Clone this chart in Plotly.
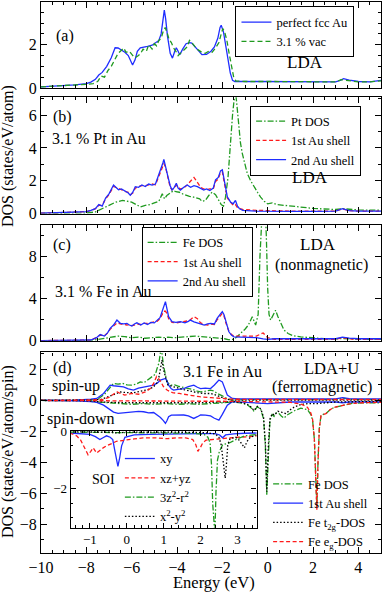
import plotly.graph_objs as go

FONT = 'Liberation Serif'
BLUE = '#1f2dff'
RED = '#ff1a1a'
GREEN = '#1f9a1f'

# ---- panel (a): perfect fcc Au vs 3.1 % vacancies
e_a_au = [-10, -9, -8.5, -8, -7.8, -7.6, -7.45, -7.3, -7.1, -6.9, -6.73, -6.6, -6.5, -6.3, -6.15, -6.05, -5.96,
          -5.85, -5.75, -5.62, -5.45, -5.3, -5.1, -4.95, -4.8, -4.7, -4.62, -4.56, -4.5, -4.42, -4.3, -4.2, -4.1,
          -4.03, -3.95, -3.88, -3.75, -3.6, -3.45, -3.35, -3.2, -3.05, -2.9, -2.7, -2.5, -2.35, -2.2, -2.1, -2.05,
          -1.95, -1.85, -1.75, -1.65, -1.55, -1.45, -1, 0, 1, 2, 3, 3.2, 3.35, 3.6, 4, 4.5, 5]
dos_a_au = [0.05, 0.1, 0.14, 0.2, 0.27, 0.4, 0.6, 0.72, 1.0, 1.4, 1.86, 1.85, 1.78, 1.65, 1.5, 1.3, 1.06,
            1.3, 1.7, 1.86, 1.88, 1.93, 1.98, 2.1, 2.2, 2.5, 3.1, 3.6, 3.2, 2.4, 1.6, 1.38, 1.7,
            1.86, 1.7, 1.54, 1.8, 2.05, 2.1, 2.08, 1.9, 1.7, 1.54, 1.55, 1.7, 1.9, 2.3, 2.8, 2.9,
            2.6, 2.0, 1.3, 0.7, 0.35, 0.3, 0.3, 0.3, 0.3, 0.28, 0.28, 0.35, 0.43, 0.36, 0.3, 0.28, 0.35]
e_a_vac = [-10, -9, -8, -7.7, -7.5, -7.35, -7.2, -7.05, -6.9, -6.75, -6.6, -6.45, -6.35, -6.25, -6.1, -5.95,
           -5.85, -5.7, -5.6, -5.5, -5.35, -5.25, -5.1, -5.0, -4.9, -4.8, -4.7, -4.6, -4.52, -4.45, -4.35, -4.25,
           -4.15, -4.05, -3.95, -3.85, -3.7, -3.55, -3.45, -3.35, -3.2, -3.05, -2.9, -2.75, -2.6, -2.45, -2.3,
           -2.15, -2.05, -1.98, -1.9, -1.8, -1.7, -1.6, -1.5, -1.4, -1, 0, 1, 2, 3, 3.25, 3.4, 3.7, 4, 4.5, 5]
dos_a_vac = [0.05, 0.1, 0.17, 0.2, 0.3, 0.55, 0.5, 0.8, 1.0, 1.3, 1.6, 1.75, 1.85, 1.65, 1.7, 1.5,
             1.4, 1.5, 1.6, 1.8, 1.7, 2.0, 1.8, 2.05, 1.95, 2.2, 2.3, 2.65, 2.8, 2.6, 2.25, 2.1,
             1.85, 1.7, 1.5, 1.6, 1.75, 1.9, 2.2, 2.1, 1.9, 1.75, 1.65, 1.6, 1.7, 1.65, 1.85,
             2.1, 2.5, 2.75, 2.6, 2.2, 1.6, 1.1, 0.5, 0.32, 0.3, 0.3, 0.3, 0.28, 0.28, 0.38, 0.36, 0.3, 0.28, 0.28, 0.33]

# ---- panel (b): 3.1 % Pt in Au
e_b_au = [-10, -9, -8, -7.8, -7.6, -7.45, -7.3, -7.15, -7.0, -6.8, -6.7, -6.58, -6.45, -6.3, -6.15, -6.06, -5.95,
          -5.84, -5.7, -5.55, -5.4, -5.25, -5.1, -4.95, -4.8, -4.7, -4.62, -4.58, -4.5, -4.4, -4.3, -4.22, -4.12,
          -4.03, -3.95, -3.85, -3.7, -3.55, -3.4, -3.25, -3.1, -2.95, -2.82, -2.7, -2.55, -2.4, -2.3, -2.18, -2.08,
          -2.0, -1.93, -1.85, -1.78, -1.64, -1.52, -1.42, -1.33, -1.25, -1.1, -0.5, 0, 1, 2, 3, 3.3, 3.6, 4, 5]
dos_b_shell2 = [0.02, 0.05, 0.12, 0.2, 0.3, 0.55, 0.45, 0.95, 1.2, 1.74, 1.6, 1.45, 1.5, 1.4, 1.25, 1.12, 1.3,
                1.64, 1.6, 1.74, 1.65, 1.8, 1.74, 1.8, 2.36, 2.7, 3.1, 3.3, 2.9, 2.25, 1.7, 1.43, 1.6,
                1.85, 1.55, 1.43, 1.6, 1.74, 1.6, 1.7, 1.64, 1.55, 1.43, 1.5, 1.4, 1.55, 2.05, 2.2, 2.6,
                2.67, 2.1, 1.6, 1.02, 0.71, 0.6, 0.8, 0.45, 0.31, 0.2, 0.15, 0.13, 0.13, 0.14, 0.15, 0.3, 0.18, 0.15, 0.15]
dos_b_shell1 = [0.02, 0.05, 0.12, 0.18, 0.3, 0.5, 0.5, 0.9, 1.15, 1.65, 1.6, 1.5, 1.45, 1.35, 1.3, 1.15, 1.25,
                1.55, 1.65, 1.7, 1.7, 1.75, 1.8, 1.75, 2.3, 2.6, 3.0, 3.05, 2.8, 2.2, 1.6, 1.45, 1.55,
                1.75, 1.6, 1.5, 1.55, 1.75, 2.0, 2.2, 1.9, 1.6, 1.5, 1.45, 1.5, 1.5, 1.95, 2.1, 2.5,
                2.55, 2.0, 1.5, 0.95, 0.7, 0.5, 0.55, 0.35, 0.3, 0.25, 0.2, 0.17, 0.15, 0.15, 0.15, 0.28, 0.18, 0.15, 0.15]
e_b_pt = [-10, -8, -7.6, -7.3, -7.0, -6.7, -6.4, -6.2, -6.0, -5.8, -5.62, -5.4, -5.2, -5.0, -4.8, -4.65, -4.55,
          -4.45, -4.3, -4.15, -4.05, -3.9, -3.75, -3.6, -3.45, -3.3, -3.15, -3.0, -2.9, -2.75, -2.6, -2.45, -2.3,
          -2.15, -2.05, -1.95, -1.86, -1.75, -1.64, -1.55, -1.49, -1.42, -1.35, -1.27, -1.2, -1.12, -1.0, -0.9,
          -0.75, -0.6, -0.45, -0.31, -0.15, 0, 0.2, 0.4, 0.7, 1.0, 1.5, 2, 2.5, 3, 3.3, 3.6, 4, 5]
dos_b_pt = [0.01, 0.03, 0.1, 0.3, 0.5, 0.7, 0.8, 0.75, 0.7, 0.55, 0.41, 0.5, 0.55, 0.65, 0.75, 1.2, 0.9,
            1.1, 1.25, 1.4, 1.33, 1.3, 1.2, 1.1, 1.05, 1.02, 0.95, 0.9, 0.75, 0.8, 1.1, 1.3, 1.15,
            0.8, 0.55, 0.45, 1.0, 2.2, 4.7, 6.0, 6.8, 7.5, 6.5, 5.1, 4.3, 3.67, 2.9, 2.44,
            2.0, 1.62, 1.3, 1.0, 0.75, 0.59, 0.65, 0.55, 0.5, 0.45, 0.38, 0.32, 0.28, 0.25, 0.3, 0.25, 0.22, 0.2]

# ---- panel (c): 3.1 % Fe in Au, nonmagnetic LDA
e_c_au = [-10, -9, -8, -7.8, -7.55, -7.39, -7.2, -7.05, -6.95, -6.8, -6.65, -6.5, -6.35, -6.21, -6.1, -5.99,
          -5.88, -5.77, -5.6, -5.45, -5.3, -5.15, -5.0, -4.88, -4.75, -4.66, -4.58, -4.51, -4.44, -4.37, -4.22,
          -4.05, -3.85, -3.65, -3.5, -3.41, -3.25, -3.1, -2.96, -2.8, -2.65, -2.52, -2.35, -2.23, -2.1, -2.0,
          -1.93, -1.86, -1.71, -1.6, -1.49, -1.2, -0.8, -0.5, -0.2, 0, 0.3, 1, 2, 3, 3.3, 3.6, 4, 5]
dos_c_shell2 = [0.02, 0.03, 0.05, 0.08, 0.3, 0.6, 0.45, 0.8, 1.18, 1.5, 1.97, 1.66, 1.6, 1.66, 1.5, 1.4,
                1.6, 1.71, 1.5, 1.7, 1.55, 1.75, 1.7, 1.97, 2.2, 2.76, 3.3, 3.71, 3.0, 2.29, 1.81,
                1.75, 1.81, 1.7, 1.85, 1.97, 1.8, 1.7, 1.66, 1.5, 1.6, 1.66, 1.6, 2.13, 2.5, 2.76,
                2.5, 1.97, 0.86, 0.55, 0.38, 0.35, 0.33, 0.3, 0.18, 0.15, 0.2, 0.2, 0.2, 0.2, 0.35, 0.25, 0.2, 0.2]
dos_c_shell1 = [0.02, 0.03, 0.05, 0.08, 0.3, 0.55, 0.5, 0.75, 1.1, 1.4, 1.7, 1.6, 1.55, 1.5, 1.55, 1.45,
                1.5, 1.6, 1.55, 1.65, 1.65, 1.7, 1.8, 1.85, 2.1, 2.5, 2.8, 2.8, 2.6, 2.1, 1.75,
                1.7, 1.75, 1.8, 1.9, 2.0, 2.29, 2.1, 1.7, 1.55, 1.5, 1.6, 1.55, 2.0, 2.4, 2.6,
                2.4, 1.8, 0.9, 0.6, 0.45, 0.45, 0.4, 0.45, 0.75, 0.3, 0.15, 0.15, 0.15, 0.15, 0.3, 0.2, 0.15, 0.15]
e_c_fe = [-10, -8, -7.6, -7.2, -6.9, -6.6, -6.3, -6.0, -5.7, -5.4, -5.1, -4.8, -4.6, -4.4, -4.1, -3.8, -3.5,
          -3.2, -2.95, -2.7, -2.4, -2.1, -1.9, -1.7, -1.5, -1.35, -1.19, -1.0, -0.85, -0.68, -0.53, -0.42,
          -0.34, -0.28, -0.2, -0.12, -0.06, 0.0, 0.06, 0.13, 0.22, 0.35, 0.45, 0.6, 0.72, 0.9, 1.1, 1.46,
          2.0, 2.5, 3, 3.3, 3.6, 4, 5]
dos_c_fe = [0.0, 0.02, 0.1, 0.25, 0.35, 0.45, 0.4, 0.3, 0.35, 0.25, 0.3, 0.35, 0.3, 0.35, 0.3, 0.35, 0.4,
            0.45, 0.4, 0.35, 0.3, 0.3, 0.2, 0.1, 0.15, 0.4, 0.7, 1.1, 1.5, 2.29, 1.5, 2.5,
            8.0, 12.0, 14.0, 13.0, 10.0, 5.0, 2.5, 1.97, 2.4, 2.9, 2.3, 1.5, 1.02, 0.7, 0.5, 0.38,
            0.25, 0.2, 0.18, 0.22, 0.18, 0.15, 0.15]

# ---- panel (d): 3.1 Fe in Au, LDA+U ferromagnetic (spin-up > 0, spin-down < 0)
e_d_au = [-10, -8.5, -7.8, -7.54, -7.24, -7.1, -6.95, -6.8, -6.6, -6.36, -6.15, -5.92, -5.7, -5.47, -5.25,
          -5.03, -4.85, -4.73, -4.6, -4.51, -4.44, -4.37, -4.25, -4.15, -3.95, -3.7, -3.5, -3.26, -3.1, -2.96,
          -2.75, -2.52, -2.35, -2.15, -2.0, -1.9, -1.78, -1.56, -1.3, 0, 1, 2, 3, 3.3, 3.6, 4, 5]
dos_d_au_up = [0.0, 0.02, 0.08, 0.13, 0.45, 0.7, 0.99, 0.95, 0.9, 0.88, 0.75, 0.67, 0.8, 0.88, 0.95,
               0.99, 1.15, 1.32, 1.38, 1.42, 1.25, 0.99, 0.75, 0.67, 0.72, 0.77, 0.9, 0.99, 0.85, 0.77,
               0.8, 0.77, 1.0, 1.32, 1.2, 0.8, 0.35, 0.13, 0.1, 0.1, 0.1, 0.1, 0.1, 0.18, 0.12, 0.1, 0.1]
dos_d_au_dn = [0.0, -0.02, -0.08, -0.13, -0.3, -0.45, -0.62, -0.75, -0.83, -0.8, -0.75, -0.73, -0.7, -0.73, -0.8,
               -0.78, -0.94, -1.1, -1.3, -1.48, -1.3, -1.05, -0.95, -0.94, -0.95, -0.94, -1.0, -1.16, -1.05, -0.94,
               -0.95, -1.0, -1.15, -1.27, -0.9, -0.62, -0.3, -0.08, -0.1, -0.2, -0.1, -0.1, -0.1, -0.15, -0.1, -0.1, -0.1]
e_d_fe_up = [-10, -8, -7.5, -7.2, -7.0, -6.8, -6.6, -6.4, -6.2, -6.0, -5.8, -5.62, -5.45, -5.3, -5.18, -5.05,
             -4.95, -4.88, -4.8, -4.74, -4.7, -4.66, -4.6, -4.51, -4.44, -4.3, -4.1, -3.9, -3.7, -3.55, -3.3,
             -3.1, -2.96, -2.75, -2.52, -2.35, -2.23, -2.0, -1.8, -1.6, -1, 0, 1, 2, 3, 3.3, 3.6, 4, 5]
dos_d_fe_up = [0.0, 0.02, 0.08, 0.4, 0.75, 1.1, 1.05, 1.1, 1.0, 0.99, 1.05, 1.2, 1.15, 1.3, 1.42, 1.6,
               1.7, 2.06, 2.4, 3.0, 3.4, 3.0, 2.3, 1.64, 1.2, 0.99, 1.0, 0.9, 0.85, 0.77, 0.7,
               0.6, 0.56, 0.6, 0.67, 0.6, 0.45, 0.3, 0.13, 0.02, 0.05, 0.05, 0.05, 0.05, 0.05, 0.15, 0.08, 0.05, 0.05]
e_d_fe_dn = [-10, -8, -7.5, -7.0, -6.5, -6.0, -5.5, -5.0, -4.5, -4.0, -3.5, -3.0, -2.5, -2.0, -1.5, -1.2,
             -0.9, -0.75, -0.6, -0.46, -0.3, -0.18, -0.1, -0.04, 0.02, 0.1, 0.2, 0.28, 0.38, 0.5, 0.6, 0.72,
             0.85, 1.02, 1.2, 1.46, 1.6, 1.76, 1.9, 1.98, 2.06, 2.12, 2.17, 2.22, 2.28, 2.35, 2.45, 2.57,
             2.75, 2.93, 3.3, 3.67, 4.2, 5]
dos_d_fe_dn = [0, -0.02, -0.1, -0.15, -0.2, -0.25, -0.2, -0.25, -0.2, -0.25, -0.22, -0.25, -0.2, -0.15, -0.1, -0.15,
               -0.28, -0.45, -0.71, -0.4, -0.6, -1.2, -3.0, -6.08, -3.5, -1.3, -0.9, -1.03, -0.8, -0.85, -1.0, -1.14,
               -0.95, -0.81, -0.65, -0.5, -0.55, -0.6, -0.9, -1.25, -2.5, -5.5, -6.9, -4.0, -1.8, -1.0, -0.9, -0.85,
               -0.6, -0.45, -0.3, -0.2, -0.15, -0.15]
e_d_t2g_up = [-10, -8, -7.4, -7.1, -6.8, -6.5, -6.2, -5.9, -5.6, -5.3, -5.05, -4.9, -4.8, -4.72, -4.66, -4.6,
              -4.5, -4.4, -4.2, -4.0, -3.7, -3.4, -3.1, -2.8, -2.5, -2.2, -2.0, -1.8, -1.5, 0, 5]
dos_d_t2g_up = [0, 0.01, 0.05, 0.2, 0.4, 0.55, 0.5, 0.5, 0.6, 0.7, 0.85, 1.1, 1.5, 2.1, 2.6, 2.0,
                1.4, 1.0, 0.9, 0.8, 0.7, 0.6, 0.5, 0.45, 0.45, 0.3, 0.2, 0.08, 0.02, 0.02, 0.02]
e_d_t2g_dn = [-10, -8, -7.5, -7.0, -6.0, -5.0, -4.5, -4.0, -3.0, -2.0, -1.5, -1.2, -0.9, -0.75, -0.6, -0.46,
              -0.3, -0.18, -0.1, -0.04, 0.02, 0.1, 0.2, 0.3, 0.45, 0.6, 0.8, 1.0, 1.2, 1.5, 1.8, 2.2, 3, 4, 5]
dos_d_t2g_dn = [0, -0.02, -0.08, -0.12, -0.15, -0.15, -0.18, -0.15, -0.15, -0.1, -0.08, -0.12, -0.25, -0.4, -0.65,
                -0.38, -0.55, -1.1, -2.8, -5.9, -3.2, -1.2, -0.85, -0.95, -0.7, -0.75, -0.85, -0.6, -0.4, -0.25,
                -0.2, -0.2, -0.1, -0.08, -0.08]
e_d_eg_up = [-10, -8, -7.3, -7.0, -6.8, -6.65, -6.5, -6.3, -6.0, -5.7, -5.4, -5.18, -5.03, -4.9, -4.75, -4.6,
             -4.44, -4.2, -3.9, -3.5, -3.0, -2.5, -2.0, -1.5, 0, 1, 2, 3, 4, 5]
dos_d_eg_up = [0, 0.01, 0.05, 0.2, 0.4, 0.56, 0.45, 0.35, 0.45, 0.4, 0.55, 0.77, 1.1, 1.55, 1.3, 0.9,
               0.67, 0.5, 0.45, 0.35, 0.24, 0.18, 0.13, 0.08, 0.06, 0.06, 0.06, 0.06, 0.06, 0.06]
e_d_eg_dn = [-10, -8, -7, -6, -5, -4, -3, -2, -1, 0, 1.0, 1.5, 1.76, 1.9, 1.98, 2.06, 2.12, 2.17, 2.22, 2.28,
             2.35, 2.45, 2.57, 2.75, 2.93, 3.3, 3.67, 4.2, 5]
dos_d_eg_dn = [0, -0.02, -0.05, -0.05, -0.06, -0.05, -0.05, -0.05, -0.08, -0.1, -0.12, -0.25, -0.45, -0.8, -1.2,
               -2.5, -5.5, -7.05, -4.0, -1.8, -1.0, -0.9, -0.85, -0.6, -0.45, -0.3, -0.2, -0.15, -0.12]

# ---- inset: SOI orbital-resolved Fe spin-down DOS
e_in_xy = [-1.55, -1.3, -1.0, -0.85, -0.73, -0.62, -0.55, -0.45, -0.38, -0.32, -0.27, -0.24, -0.19, -0.14,
           -0.05, 0.2, 0.6, 1.0, 1.5, 2.0, 2.4, 2.52, 2.6, 2.68, 2.9, 3.2, 3.55]
dos_in_xy = [-0.05, -0.07, -0.1, -0.18, -0.28, -0.2, -0.15, -0.2, -0.28, -0.69, -1.05, -1.22, -0.9, -0.5,
             -0.2, -0.12, -0.1, -0.08, -0.08, -0.07, -0.07, -0.12, -0.22, -0.12, -0.08, -0.06, -0.05]
e_in_xz = [-1.55, -1.45, -1.36, -1.25, -1.18, -1.1, -1.05, -0.98, -0.91, -0.82, -0.73, -0.64, -0.55, -0.46,
           -0.37, -0.28, -0.1, 0.2, 0.44, 0.8, 1.1, 1.34, 1.6, 1.79, 1.87, 1.93, 2.0, 2.06, 2.15, 2.3, 2.6,
           3.0, 3.3, 3.55]
dos_in_xz = [-0.05, -0.1, -0.15, -0.3, -0.46, -0.65, -0.81, -0.7, -0.57, -0.75, -0.65, -0.57, -0.5, -0.46,
             -0.4, -0.34, -0.3, -0.26, -0.22, -0.22, -0.25, -0.22, -0.22, -0.28, -0.45, -0.69, -0.55, -0.4, -0.3,
             -0.28, -0.25, -0.2, -0.18, -0.15]
e_in_z2 = [-1.55, -1.0, 0.0, 1.0, 1.8, 2.1, 2.2, 2.26, 2.3, 2.33, 2.36, 2.39, 2.42, 2.46, 2.51, 2.6, 2.78,
           2.96, 3.2, 3.55]
dos_in_z2 = [-0.02, -0.03, -0.04, -0.05, -0.06, -0.1, -0.2, -0.4, -1.2, -2.5, -3.6, -3.6, -2.1, -1.0, -0.7,
             -0.46, -0.4, -0.28, -0.15, -0.1]
e_in_x2y2 = [-1.55, -0.5, -0.25, 0.0, 1.0, 2.0, 2.4, 2.5, 2.56, 2.6, 2.64, 2.67, 2.7, 2.74, 2.8, 2.95, 3.05,
             3.12, 3.19, 3.26, 3.35, 3.55]
dos_in_x2y2 = [-0.01, -0.02, -0.05, -0.02, -0.02, -0.03, -0.08, -0.2, -0.46, -0.9, -1.4, -1.63, -1.2, -0.46,
               -0.25, -0.2, -0.3, -0.45, -0.57, -0.35, -0.2, -0.1]

SOLID = 'solid'
DASH = '4px,2.5px'
DASHDOT = '6px,2px,1.5px,2px'
DOT = '1.5px,2px'


def line_trace(x, y, name, color, dash, axis, legend=None, show=True):
    return go.Scatter(x=x, y=y, name=name, mode='lines',
                      line=dict(color=color, dash=dash, width=1.3),
                      xaxis='x' + axis, yaxis='y' + axis,
                      legend=legend, showlegend=show and legend is not None)


fig = go.Figure()
# (a)
fig.add_trace(line_trace(e_a_au, dos_a_au, 'perfect fcc Au', BLUE, SOLID, '', 'legend'))
fig.add_trace(line_trace(e_a_vac, dos_a_vac, '3.1 % vac', GREEN, '5px,3px', '', 'legend'))
# (b)
fig.add_trace(line_trace(e_b_pt, dos_b_pt, 'Pt DOS', GREEN, DASHDOT, '2', 'legend2'))
fig.add_trace(line_trace(e_b_au, dos_b_shell1, '1st Au shell', RED, DASH, '2', 'legend2'))
fig.add_trace(line_trace(e_b_au, dos_b_shell2, '2nd Au shell', BLUE, SOLID, '2', 'legend2'))
# (c)
fig.add_trace(line_trace(e_c_fe, dos_c_fe, 'Fe DOS', GREEN, DASHDOT, '3', 'legend3'))
fig.add_trace(line_trace(e_c_au, dos_c_shell1, '1st Au shell', RED, DASH, '3', 'legend3'))
fig.add_trace(line_trace(e_c_au, dos_c_shell2, '2nd Au shell', BLUE, SOLID, '3', 'legend3'))
# (d)
fig.add_trace(line_trace(e_d_fe_up, dos_d_fe_up, 'Fe DOS', GREEN, DASHDOT, '4', 'legend4'))
fig.add_trace(line_trace(e_d_au, dos_d_au_up, '1st Au shell', BLUE, SOLID, '4', 'legend4'))
fig.add_trace(line_trace(e_d_t2g_up, dos_d_t2g_up, 'Fe t<sub>2g</sub>-DOS', 'black', DOT, '4', 'legend4'))
fig.add_trace(line_trace(e_d_eg_up, dos_d_eg_up, 'Fe e<sub>g</sub>-DOS', RED, DASH, '4', 'legend4'))
fig.add_trace(line_trace(e_d_fe_dn, dos_d_fe_dn, 'Fe DOS', GREEN, DASHDOT, '4', 'legend4', False))
fig.add_trace(line_trace(e_d_au, dos_d_au_dn, '1st Au shell', BLUE, SOLID, '4', 'legend4', False))
fig.add_trace(line_trace(e_d_t2g_dn, dos_d_t2g_dn, 'Fe t2g', 'black', DOT, '4', 'legend4', False))
fig.add_trace(line_trace(e_d_eg_dn, dos_d_eg_dn, 'Fe eg', RED, DASH, '4', 'legend4', False))
# inset
fig.add_trace(line_trace(e_in_xy, dos_in_xy, 'xy', BLUE, SOLID, '5', 'legend5'))
fig.add_trace(line_trace(e_in_xz, dos_in_xz, 'xz+yz', RED, DASH, '5', 'legend5'))
fig.add_trace(line_trace(e_in_z2, dos_in_z2, '3z<sup>2</sup>-r<sup>2</sup>', GREEN, DASHDOT, '5', 'legend5'))
fig.add_trace(line_trace(e_in_x2y2, dos_in_x2y2, 'x<sup>2</sup>-y<sup>2</sup>', 'black', DOT, '5', 'legend5'))


def axis_style(minor_dtick, size=16, ticklen=6, **kw):
    d = dict(showline=True, linecolor='black', linewidth=1.2, mirror='allticks',
             ticks='inside', ticklen=ticklen, tickwidth=1, tickcolor='black',
             showgrid=False, zeroline=False, tick0=0, automargin=False,
             tickfont=dict(family=FONT, size=size, color='black'),
             minor=dict(ticks='inside', ticklen=ticklen / 2, tickwidth=1, tickcolor='black',
                        dtick=minor_dtick, showgrid=False))
    d.update(kw)
    return d


def legend_style(x, y, size=12.5, border=1):
    return dict(x=x, y=y, xanchor='left', yanchor='top', bgcolor='rgba(255,255,255,1)' if border else 'rgba(0,0,0,0)',
                bordercolor='black', borderwidth=border, font=dict(family=FONT, size=size, color='black'),
                tracegroupgap=0, itemwidth=30)


panel_dom = {'': [0.844, 1.0], '2': [0.616, 0.827], '3': [0.385, 0.596], '4': [0.0, 0.364]}
y_ranges = {'': [0, 3.98], '2': [0, 7.08], '3': [0, 11.0], '4': [-9.85, 3.1]}
y_dticks = {'': (2, 0.5), '2': (2, 1), '3': (4, 2), '4': (2, 1)}

layout = dict(width=382, height=592, margin=dict(l=41, r=1, t=2, b=39, autoexpand=False),
              plot_bgcolor='white', paper_bgcolor='white',
              font=dict(family=FONT, size=16, color='black'))
for k in ['', '2', '3', '4']:
    layout['xaxis' + k] = axis_style(0.5, range=[-10, 5], dtick=2, anchor='y' + k,
                                     showticklabels=(k == '4'))
    layout['yaxis' + k] = axis_style(y_dticks[k][1], range=y_ranges[k], dtick=y_dticks[k][0],
                                     domain=panel_dom[k], anchor='x' + k)
layout['xaxis5'] = axis_style(0.2, size=13, ticklen=5, range=[-1.52, 3.52], dtick=1, anchor='y5',
                              domain=[0.0874, 0.634])
layout['yaxis5'] = axis_style(0.5, size=13, ticklen=5, range=[-3.36, 0.03], dtick=2, anchor='x5',
                              domain=[0.046, 0.222])

layout['legend'] = legend_style(0.572, 0.992)
layout['legend2'] = legend_style(0.615, 0.812)
layout['legend3'] = legend_style(0.296, 0.592)
layout['legend4'] = legend_style(0.668, 0.152, border=0)
layout['legend5'] = legend_style(0.232, 0.198, border=0)

notes = [
    ('(a)', 0.0706, 0.938, 16), ('LDA', 0.776, 0.891, 17),
    ('(b)', 0.0618, 0.791, 16), ('3.1 % Pt in Au', 0.1706, 0.753, 16), ('LDA', 0.791, 0.682, 17),
    ('(c)', 0.0618, 0.559, 16), ('LDA', 0.815, 0.559, 17), ('(nonmagnetic)', 0.826, 0.5227, 16),
    ('3.1 % Fe in Au', 0.182, 0.4737, 16),
    ('(d)', 0.0618, 0.3357, 16), ('3.1 Fe in Au', 0.535, 0.329, 16), ('LDA+U', 0.853, 0.334, 16.5),
    ('(ferromagnetic)', 0.826, 0.301, 16), ('spin-up', 0.103, 0.303, 16), ('spin-down', 0.118, 0.244, 16),
    ('SOI', 0.185, 0.1325, 14), ('Energy (eV)', 0.509, -0.053, 16.5),
]
annotations = [dict(text=t, x=x, y=y, xref='paper', yref='paper', showarrow=False,
                    xanchor='center', yanchor='middle', font=dict(family=FONT, size=s, color='black'))
               for t, x, y, s in notes]
annotations.append(dict(text='DOS (states/eV/atom)', x=-0.097, y=0.7205, xref='paper', yref='paper',
                        showarrow=False, textangle=-90, xanchor='center', yanchor='middle',
                        font=dict(family=FONT, size=16, color='black')))
annotations.append(dict(text='DOS (states/eV/atom/spin)', x=-0.097, y=0.1833, xref='paper', yref='paper',
                        showarrow=False, textangle=-90, xanchor='center', yanchor='middle',
                        font=dict(family=FONT, size=16, color='black')))
layout['annotations'] = annotations

fig.update_layout(**layout)
# the page body has a default 8px margin; drop it so the figure sits at the window origin
fig.write_html("out.html", config={'displayModeBar': False},
               post_script="document.body.style.margin='0';document.body.style.overflow='hidden';")
